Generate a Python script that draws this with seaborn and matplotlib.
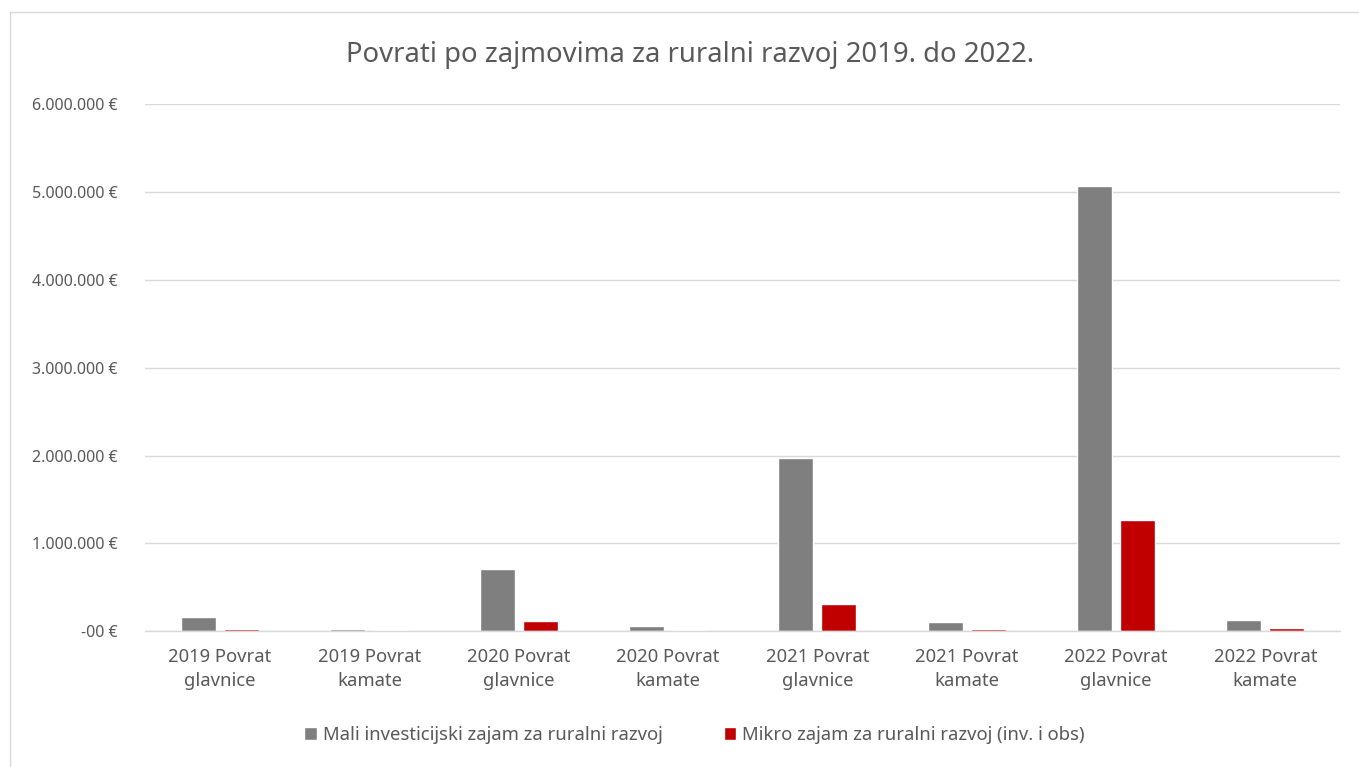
import pandas as pd
import numpy as np
import seaborn as sns
import matplotlib.pyplot as plt
from matplotlib.patches import Rectangle
from matplotlib.ticker import FixedLocator, FixedFormatter

categories = ['2019 Povrat\nglavnice', '2019 Povrat\nkamate',
              '2020 Povrat\nglavnice', '2020 Povrat\nkamate',
              '2021 Povrat\nglavnice', '2021 Povrat\nkamate',
              '2022 Povrat\nglavnice', '2022 Povrat\nkamate']
series_names = ['Mali investicijski zajam za ruralni razvoj',
                'Mikro zajam za ruralni razvoj (inv. i obs)']
mali_values = [165000, 20000, 710000, 55000, 1970000, 100000, 5070000, 130000]
mikro_values = [30000, 15000, 115000, 15000, 315000, 25000, 1265000, 35000]
y_ticks = [0, 1000000, 2000000, 3000000, 4000000, 5000000, 6000000]
y_tick_labels = ['-00 €', '1.000.000 €', '2.000.000 €', '3.000.000 €',
                 '4.000.000 €', '5.000.000 €', '6.000.000 €']
colors = ['#7f7f7f', '#c00000']

df = pd.DataFrame({
    'kategorija': categories * 2,
    'serija': [series_names[0]] * 8 + [series_names[1]] * 8,
    'iznos': mali_values + mikro_values,
})

sns.set_style('white')
plt.rcParams['font.family'] = ['Noto Sans', 'DejaVu Sans']

fig = plt.figure(figsize=(13.59, 7.67), dpi=100)
ax = fig.add_axes([0.107, 0.177, 0.879, 0.687])

sns.barplot(data=df, x='kategorija', y='iznos', hue='serija',
            palette=colors, width=0.576, gap=0.19, ax=ax,
            saturation=1, errorbar=None)

ax.set_ylim(0, 6000000)
ax.set_xlim(-0.5, 7.5)
ax.yaxis.set_major_locator(FixedLocator(y_ticks))
ax.yaxis.set_major_formatter(FixedFormatter(y_tick_labels))
ax.grid(axis='y', color='#d9d9d9', linewidth=1)
ax.set_axisbelow(True)
for s in ['top', 'right', 'left']:
    ax.spines[s].set_visible(False)
ax.spines['bottom'].set_color('#d9d9d9')
ax.spines['bottom'].set_linewidth(1)
ax.tick_params(axis='both', length=0, colors='#595959')
ax.tick_params(axis='y', labelsize=11.5, pad=20)
ax.tick_params(axis='x', labelsize=13.3, pad=12)
for lbl in ax.get_xticklabels():
    lbl.set_linespacing(1.45)
ax.set_xlabel('')
ax.set_ylabel('')

fig.text(0.508, 0.928, 'Povrati po zajmovima za ruralni razvoj 2019. do 2022.',
         ha='center', va='center', fontsize=19.8, color='#595959')

handles, labels = ax.get_legend_handles_labels()
ax.legend(handles, labels, loc='center', bbox_to_anchor=(0.511, 0.042),
          bbox_transform=fig.transFigure, ncol=2, frameon=False,
          fontsize=13.3, labelcolor='#595959', handlelength=0.7,
          handleheight=0.7, handletextpad=0.3, columnspacing=3.3)

fig.patches.append(Rectangle((0.0075, -0.01), 1.0, 0.995, transform=fig.transFigure,
                             fill=False, edgecolor='#d9d9d9', linewidth=1))

fig.savefig('out.png', dpi=100)
